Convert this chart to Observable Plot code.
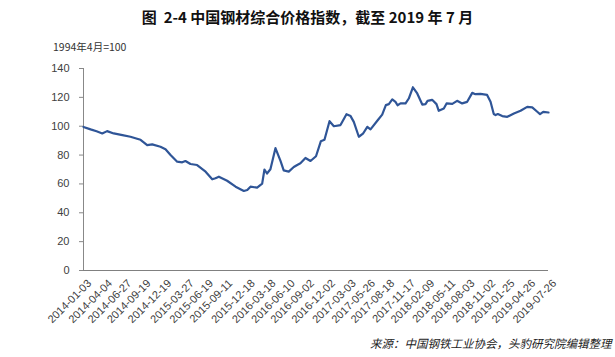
<!DOCTYPE html>
<html><head><meta charset="utf-8">
<script src="https://cdn.jsdelivr.net/npm/d3@7"></script>
<script src="https://cdn.jsdelivr.net/npm/@observablehq/plot@0.6"></script>
<style>
body{margin:0;width:615px;height:357px;overflow:hidden;background:#fff;position:relative;font-family:"Noto Sans CJK SC","Liberation Sans",sans-serif;}
#title{position:absolute;left:0;top:7px;width:615px;text-align:center;font-weight:bold;font-size:15px;line-height:20px;color:#111;}
#sub{position:absolute;left:53px;top:40px;font-size:10.5px;line-height:14px;color:#333;}
#chart{position:absolute;left:0;top:36px;}
#cap{position:absolute;left:370px;top:334px;font-size:11.5px;line-height:18px;font-style:italic;white-space:nowrap;color:#222;}
</style></head>
<body>
<div id="title">图&nbsp;&nbsp;2-4 中国钢材综合价格指数，截至 2019 年 7 月</div>
<div id="sub">1994年4月=100</div>
<div id="chart"></div>
<div id="cap">来源：中国钢铁工业协会，头豹研究院编辑整理</div>
<script>
const dates = ["2014-01-03","2014-02-03","2014-03-01","2014-03-26","2014-04-16","2014-05-15","2014-06-22","2014-07-27","2014-08-25","2014-09-09",
"2014-10-08","2014-10-30","2014-12-05","2014-12-27","2015-01-18","2015-02-16","2015-03-10","2015-03-24","2015-04-15","2015-05-14",
"2015-06-20","2015-07-19","2015-08-02","2015-08-17","2015-09-22","2015-10-29","2015-12-04","2015-12-19","2016-01-02","2016-01-31",
"2016-02-22","2016-03-03","2016-03-14","2016-03-29","2016-04-20","2016-05-12","2016-05-26","2016-06-17","2016-07-09","2016-07-24",
"2016-08-07","2016-08-29","2016-09-20","2016-10-14","2016-11-04","2016-11-20","2016-12-12","2016-12-31","2017-01-29","2017-02-24",
"2017-03-14","2017-03-28","2017-04-19","2017-05-07","2017-05-26","2017-06-09","2017-07-12","2017-07-30","2017-08-15","2017-08-28",
"2017-09-12","2017-09-26","2017-10-05","2017-10-18","2017-11-09","2017-11-23","2017-12-11","2017-12-30","2018-01-21","2018-02-04",
"2018-02-13","2018-03-05","2018-03-24","2018-04-03","2018-04-25","2018-05-07","2018-06-01","2018-06-22","2018-07-14","2018-08-05",
"2018-08-27","2018-09-10","2018-10-02","2018-10-31","2018-11-15","2018-11-29","2018-12-07","2018-12-17","2019-01-05","2019-01-27",
"2019-02-25","2019-03-26","2019-04-24","2019-05-16","2019-06-07","2019-06-19","2019-07-03","2019-07-26"];
const values = [99.5,97.8,96.5,95.0,96.6,95.0,93.8,92.7,91.3,90.6,
86.9,87.4,85.8,84.0,80.0,75.4,75.0,75.9,73.8,73.1,
68.5,63.2,63.9,65.0,62.2,58.1,55.1,55.8,58.1,57.4,
60.2,70.0,67.2,70.2,84.8,76.0,69.4,68.5,71.7,73.1,
74.3,78.0,75.9,79.2,89.5,90.6,103.5,100.0,100.8,108.3,
107.0,103.0,92.7,94.8,99.6,97.8,104.5,108.0,114.6,115.3,
118.6,116.9,114.5,115.8,115.8,119.2,127.0,122.7,115.0,115.3,
117.6,118.3,115.3,110.7,112.3,115.8,115.5,117.6,115.8,116.9,
123.1,122.2,122.4,121.7,116.9,108.5,107.7,108.4,107.0,106.5,
108.8,110.7,113.4,113.0,110.0,108.4,110.0,109.5];
const xTickLabels = ["2014-01-03","2014-04-04","2014-06-27","2014-09-19","2014-12-19","2015-03-27","2015-06-19","2015-09-11",
"2015-12-18","2016-03-18","2016-06-10","2016-09-02","2016-12-02","2017-03-03","2017-05-26","2017-08-18","2017-11-17",
"2018-02-09","2018-05-11","2018-08-03","2018-11-02","2019-01-25","2019-04-26","2019-07-26"];
const yTicks = [0,20,40,60,80,100,120,140];

const data = dates.map((d,i)=>({date:new Date(d), value:values[i]}));
const xStart = new Date(xTickLabels[0]), xEnd = new Date(xTickLabels[xTickLabels.length-1]);

const chart = Plot.plot({
  width: 615, height: 300,
  marginTop: 32, marginBottom: 66, marginLeft: 83, marginRight: 67,
  style: {fontFamily: "'Liberation Sans', Arial, sans-serif", fontSize: "11px", color: "#404040", background: "transparent", overflow: "visible"},
  x: {type: "utc", domain: [xStart, xEnd]},
  y: {domain: [0, 140]},
  marks: [
    Plot.axisY({ticks: yTicks, tickSize: 4, tickPadding: 10, label: null, stroke: "#888", fill: "#404040"}),
    Plot.ruleX([xStart], {stroke: "#888"}),
    Plot.ruleY([0], {stroke: "#808080", strokeWidth: 1.2}),
    Plot.axisX({ticks: xTickLabels.map(d=>new Date(d)), tickFormat: d3.utcFormat("%Y-%m-%d"), tickRotate: -45, tickSize: 0, tickPadding: 6, dx: 6, dy: 5, label: null, fill: "#404040"}),
    Plot.line(data, {x: "date", y: "value", stroke: "#2f5597", strokeWidth: 2.2})
  ]
});
document.getElementById("chart").appendChild(chart);
</script>
</body></html>
